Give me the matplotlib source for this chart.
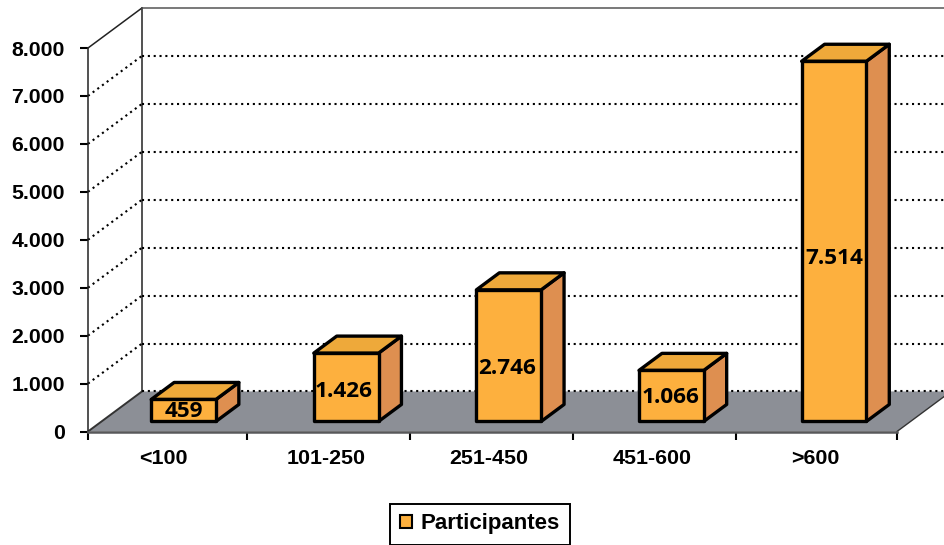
from matplotlib import pyplot as plt
from matplotlib.patches import Patch, Polygon

categories = ['<100', '101-250', '251-450', '451-600', '>600']
participantes = [459, 1426, 2746, 1066, 7514]
bar_labels = ['459', '1.426', '2.746', '1.066', '7.514']
y_ticks = [0, 1000, 2000, 3000, 4000, 5000, 6000, 7000, 8000]
y_tick_labels = ['0', '1.000', '2.000', '3.000', '4.000', '5.000', '6.000', '7.000', '8.000']

W, H = 944, 545
FRONT = '#FDB03E'
TOP = '#EEA93A'
SIDE = '#DE8F50'
FLOOR = '#8C8F96'

# depth of the 3d box, in data units
DX = 54 / 809 * 5
DY = 40 / 383 * 8000
BAR_W = 0.4
D0, D1 = 0.25, 0.675
PX_X = 5 / 809
PX_Y = 8000 / 383.5

# excel does not put things quite evenly, so small nudges (pixels)
bar_pos = [0.507 + i * 1.005 for i in range(5)]
tick_pos = [0, 0.985, 1.99, 2.998, 4.005, 5]
label_pos = [0.4635 + i * 1.0074 for i in range(5)]
label_nudge_x = [0, -2.5, -2, -1, 0.5]
label_nudge_y = [-1, -4, -13, -2, -17]


def proj(x, v, d):
    return (x + d * DX, v + d * DY)


fig = plt.figure(figsize=(W / 100, H / 100), dpi=100)
ax = fig.add_axes([88 / W, 1 - 431.5 / H, 809 / W, 383.5 / H])
ax.set_xlim(0, 5)
ax.set_ylim(0, 8000)
ax.patch.set_visible(False)
for s in ['top', 'right']:
    ax.spines[s].set_visible(False)
ax.spines['left'].set_color('#222222')
ax.spines['left'].set_linewidth(1.1)
ax.spines['bottom'].set_color('#58585A')
ax.spines['bottom'].set_linewidth(1.8)
ax.spines['bottom'].set_zorder(4)

# floor
ax.add_patch(Polygon([proj(0, 0, 0), proj(5, 0, 0), proj(5, 0, 1), proj(0, 0, 1)],
                     closed=True, facecolor=FLOOR, edgecolor='none', clip_on=False, zorder=1))
ax.plot(*zip(proj(0, 0, 0), proj(0, 0, 1)), color='#333333', lw=1.4, clip_on=False, zorder=2)
ax.plot(*zip(proj(5, 0, 0), proj(5, 0, 1)), color='#333333', lw=1.0, clip_on=False, zorder=2)

# walls and grid
ax.plot(*zip(proj(0, 0, 1), proj(0, 8000, 1)), color='#222222', lw=1.1, clip_on=False, zorder=2)
ax.plot(*zip(proj(0, 8000, 0), proj(0, 8000, 1)), color='#222222', lw=1.1, clip_on=False, zorder=2)
ax.plot(*zip(proj(0, 8000, 1), proj(5, 8000, 1)), color='#555555', lw=1.1, clip_on=False, zorder=2)
for v in y_ticks[:-1]:
    if v > 0:
        ax.plot(*zip(proj(0, v, 0), proj(0, v, 1)), color='black', lw=1.5,
                ls=(0, (1, 1.8)), clip_on=False, zorder=2)
    ax.plot(*zip(proj(0, v, 1), proj(5, v, 1)), color='black', lw=1.5,
            ls=(0, (1, 1.8)), clip_on=False, zorder=2)

# bars
for i, v in enumerate(participantes):
    x0 = bar_pos[i] - BAR_W / 2
    x1 = bar_pos[i] + BAR_W / 2
    kw = dict(closed=True, edgecolor='black', linewidth=2.4, joinstyle='round',
              clip_on=False, zorder=5)
    ax.add_patch(Polygon([proj(x1, 0, D0), proj(x1, 0, D1), proj(x1, v, D1), proj(x1, v, D0)],
                         facecolor=SIDE, **kw))
    ax.add_patch(Polygon([proj(x0, v, D0), proj(x1, v, D0), proj(x1, v, D1), proj(x0, v, D1)],
                         facecolor=TOP, **kw))
    ax.add_patch(Polygon([proj(x0, 0, D0), proj(x1, 0, D0), proj(x1, v, D0), proj(x0, v, D0)],
                         facecolor=FRONT, **kw))
    cx, cy = proj(bar_pos[i], v / 2, D0)
    ax.text(cx + label_nudge_x[i] * PX_X, cy + label_nudge_y[i] * PX_Y, bar_labels[i],
            ha='center', va='center', fontsize=16.2,
            fontweight='bold', family='Open Sans', color='black', zorder=6)

# axes
ax.set_yticks(y_ticks)
ax.set_yticklabels(y_tick_labels, family='Liberation Sans', fontweight='bold', fontsize=15.3)
ax.tick_params(axis='y', length=5.8, width=1.5, pad=10.8, color='black')
ax.set_xticks(tick_pos)
ax.set_xticklabels([])
ax.set_xticks(label_pos, minor=True)
ax.set_xticklabels(categories, minor=True, family='Liberation Sans', fontweight='bold', fontsize=15.4)
ax.tick_params(axis='x', which='major', length=5.5, width=1.5, color='black')
ax.tick_params(axis='x', which='minor', length=0, pad=12.3)

leg = fig.legend(handles=[Patch(facecolor=FRONT, edgecolor='black', linewidth=1.5, label='Participantes')],
                 loc='center', bbox_to_anchor=(480 / W, 1 - 524 / H), fancybox=False,
                 framealpha=1, edgecolor='black', handlelength=0.55, handleheight=0.55,
                 handletextpad=0.4, borderpad=0.45, borderaxespad=0,
                 prop=dict(family='Liberation Sans', weight='bold', size=16))
leg.get_frame().set_linewidth(1.4)

fig.savefig('out.png', dpi=100)
